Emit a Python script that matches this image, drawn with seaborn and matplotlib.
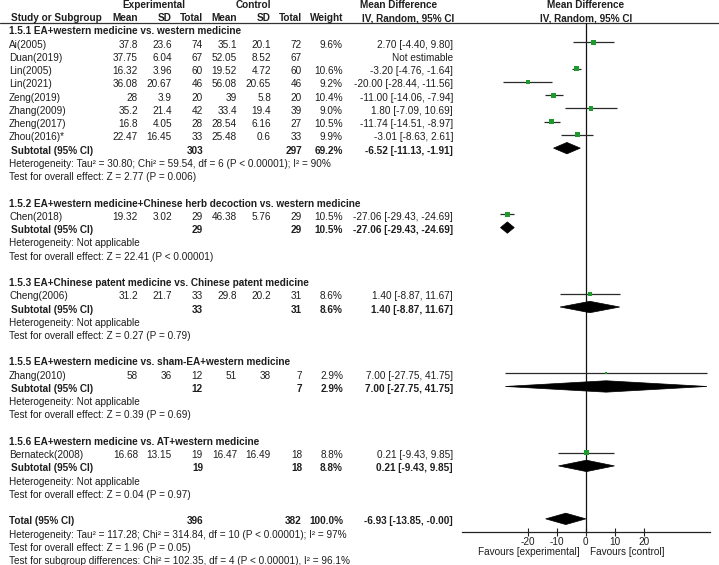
import numpy as np
import pandas as pd
import matplotlib
matplotlib.use("Agg")
import matplotlib.pyplot as plt
import seaborn as sns
from matplotlib.patches import Polygon

# ---------------- data ----------------
studies = ["Ai(2005)", "Duan(2019)", "Lin(2005)", "Lin(2021)", "Zeng(2019)", "Zhang(2009)",
           "Zheng(2017)", "Zhou(2016)*", "Chen(2018)", "Cheng(2006)", "Zhang(2010)", "Bernateck(2008)"]
study_group = [0, 0, 0, 0, 0, 0, 0, 0, 1, 2, 3, 4]
exp_mean = [37.8, 37.75, 16.32, 36.08, 28, 35.2, 16.8, 22.47, 19.32, 31.2, 58, 16.68]
exp_sd = [23.6, 6.04, 3.96, 20.67, 3.9, 21.4, 4.05, 16.45, 3.02, 21.7, 36, 13.15]
exp_n = [74, 67, 60, 46, 20, 42, 28, 33, 29, 33, 12, 19]
ctl_mean = [35.1, 52.05, 19.52, 56.08, 39, 33.4, 28.54, 25.48, 46.38, 29.8, 51, 16.47]
ctl_sd = [20.1, 8.52, 4.72, 20.65, 5.8, 19.4, 6.16, 0.6, 5.76, 20.2, 38, 16.49]
ctl_n = [72, 67, 60, 46, 20, 39, 27, 33, 29, 31, 7, 18]
weight = [9.6, np.nan, 10.6, 9.2, 10.4, 9.0, 10.5, 9.9, 10.5, 8.6, 2.9, 8.8]
md = [2.70, np.nan, -3.20, -20.00, -11.00, 1.80, -11.74, -3.01, -27.06, 1.40, 7.00, 0.21]
md_lo = [-4.40, np.nan, -4.76, -28.44, -14.06, -7.09, -14.51, -8.63, -29.43, -8.87, -27.75, -9.43]
md_hi = [9.80, np.nan, -1.64, -11.56, -7.94, 10.69, -8.97, 2.61, -24.69, 11.67, 41.75, 9.85]

group_titles = ["1.5.1 EA+western medicine vs. western medicine",
                "1.5.2 EA+western medicine+Chinese herb decoction vs. western medicine",
                "1.5.3 EA+Chinese patent medicine vs. Chinese patent medicine",
                "1.5.5 EA+western medicine vs. sham-EA+western medicine",
                "1.5.6 EA+western medicine vs. AT+western medicine"]
sub_exp_n = [303, 29, 33, 12, 19]
sub_ctl_n = [297, 29, 31, 7, 18]
sub_weight = [69.2, 10.5, 8.6, 2.9, 8.8]
sub_md = [-6.52, -27.06, 1.40, 7.00, 0.21]
sub_lo = [-11.13, -29.43, -8.87, -27.75, -9.43]
sub_hi = [-1.91, -24.69, 11.67, 41.75, 9.85]
sub_het = ["Heterogeneity: Tau\u00b2 = 30.80; Chi\u00b2 = 59.54, df = 6 (P < 0.00001); I\u00b2 = 90%",
           "Heterogeneity: Not applicable", "Heterogeneity: Not applicable",
           "Heterogeneity: Not applicable", "Heterogeneity: Not applicable"]
sub_test = ["Test for overall effect: Z = 2.77 (P = 0.006)",
            "Test for overall effect: Z = 22.41 (P < 0.00001)",
            "Test for overall effect: Z = 0.27 (P = 0.79)",
            "Test for overall effect: Z = 0.39 (P = 0.69)",
            "Test for overall effect: Z = 0.04 (P = 0.97)"]
total_exp_n, total_ctl_n, total_weight = 396, 382, 100.0
total_md, total_lo, total_hi = -6.93, -13.85, -0.0
total_het = "Heterogeneity: Tau\u00b2 = 117.28; Chi\u00b2 = 314.84, df = 10 (P < 0.00001); I\u00b2 = 97%"
total_test = "Test for overall effect: Z = 1.96 (P = 0.05)"
subgroup_test = "Test for subgroup differences: Chi\u00b2 = 102.35, df = 4 (P < 0.00001), I\u00b2 = 96.1%"
tick_values = [-20, -10, 0, 10, 20]
favours_left = "Favours [experimental]"
favours_right = "Favours [control]"

# ---------------- layout ----------------
W, H = 719, 565
FS = 7.2
TXT = "#1e1e1e"
GREEN = "#1f9a2e"
ROW0, ROWH = 5.0, 13.24      # text row pixel position
MOFF = 2.5                   # marker row pixel position offset

sns.set_theme(style="white")
plt.rcParams["font.family"] = ["Liberation Sans", "DejaVu Sans"]

fig = plt.figure(figsize=(W / 100, H / 100), dpi=100)
axt = fig.add_axes([0, 0, 1, 1])
axt.set_xlim(0, W)
axt.set_ylim(H, 0)
axt.axis("off")


def ty(r):
    return ROW0 + ROWH * r


def put(x, r, s, ha="left", bold=False):
    axt.text(x, ty(r), s, ha=ha, va="center", fontsize=FS, color=TXT,
             fontweight="bold" if bold else "normal")


def fmt(v):
    return f"{v:g}"


def ci(m, lo, hi):
    return f"{m:.2f} [{lo:.2f}, {hi:.2f}]"


# column x positions (right edges)
X_NAME, X_SUB = 9, 11
X_EM, X_ESD, X_EN, X_CM, X_CSD, X_CN, X_W, X_MD = 138, 172, 203, 237, 271, 302, 343, 453

# headers
put(154, 0, "Experimental", ha="center", bold=True)
put(253, 0, "Control", ha="center", bold=True)
put(399, 0, "Mean Difference", ha="center", bold=True)
put(586, 0, "Mean Difference", ha="center", bold=True)
put(X_SUB, 1, "Study or Subgroup", bold=True)
for x, s in zip([X_EM, X_ESD, X_EN, X_CM, X_CSD, X_CN, X_W],
                ["Mean", "SD", "Total", "Mean", "SD", "Total", "Weight"]):
    put(x, 1, s, ha="right", bold=True)
put(408, 1, "IV, Random, 95% CI", ha="center", bold=True)
put(586, 1, "IV, Random, 95% CI", ha="center", bold=True)
axt.plot([0, W], [22.7, 22.7], color="#333333", lw=0.9)

# rows
study_rows = [0] * len(studies)
sub_rows = []
r = 2
for g, title in enumerate(group_titles):
    put(X_NAME, r, title, bold=True)
    r += 1
    for i, gi in enumerate(study_group):
        if gi != g:
            continue
        study_rows[i] = r
        put(X_NAME, r, studies[i])
        put(X_EM, r, fmt(exp_mean[i]), ha="right")
        put(X_ESD, r, fmt(exp_sd[i]), ha="right")
        put(X_EN, r, str(exp_n[i]), ha="right")
        put(X_CM, r, fmt(ctl_mean[i]), ha="right")
        put(X_CSD, r, fmt(ctl_sd[i]), ha="right")
        put(X_CN, r, str(ctl_n[i]), ha="right")
        if np.isnan(md[i]):
            put(X_MD, r, "Not estimable", ha="right")
        else:
            put(X_W, r, f"{weight[i]:.1f}%", ha="right")
            put(X_MD, r, ci(md[i], md_lo[i], md_hi[i]), ha="right")
        r += 1
    sub_rows.append(r)
    put(X_SUB, r, "Subtotal (95% CI)", bold=True)
    put(X_EN, r, str(sub_exp_n[g]), ha="right", bold=True)
    put(X_CN, r, str(sub_ctl_n[g]), ha="right", bold=True)
    put(X_W, r, f"{sub_weight[g]:.1f}%", ha="right", bold=True)
    put(X_MD, r, ci(sub_md[g], sub_lo[g], sub_hi[g]), ha="right", bold=True)
    put(X_NAME, r + 1, sub_het[g])
    put(X_NAME, r + 2, sub_test[g])
    r += 4

total_row = r
put(X_NAME, total_row, "Total (95% CI)", bold=True)
put(X_EN, total_row, str(total_exp_n), ha="right", bold=True)
put(X_CN, total_row, str(total_ctl_n), ha="right", bold=True)
put(X_W, total_row, f"{total_weight:.1f}%", ha="right", bold=True)
put(X_MD, total_row, ci(total_md, total_lo, total_hi), ha="right", bold=True)
put(X_NAME, total_row + 1, total_het)
put(X_NAME, total_row + 2, total_test)
put(X_NAME, total_row + 3, subgroup_test)

# ---------------- forest axes ----------------
left_px, right_px, top_px, bot_px = 461.7, 710.0, 22.7, 531.7
axf = fig.add_axes([left_px / W, (H - bot_px) / H, (right_px - left_px) / W, (bot_px - top_px) / H])
axf.set_facecolor("none")
axf.set_xlim(-42.8, 42.8)
axf.set_ylim((bot_px - MOFF) / ROWH, (top_px - MOFF) / ROWH)

df = pd.DataFrame({"study": studies, "row": study_rows, "md": md, "lo": md_lo,
                   "hi": md_hi, "weight": weight}).dropna()

axf.axvline(0, color="#111111", lw=0.9, zorder=1)
axf.hlines(df["row"], df["lo"], df["hi"], color="#2a2a2a", lw=0.9, zorder=2)
sns.scatterplot(data=df, x="md", y="row", size="weight", sizes=(2, 13),
                size_norm=(2.9, 10.6), marker="s", color=GREEN, linewidth=0,
                legend=False, ax=axf, zorder=3)

half = 0.43
for m, lo, hi, rr in zip(sub_md + [total_md], sub_lo + [total_lo], sub_hi + [total_hi],
                         sub_rows + [total_row]):
    axf.add_patch(Polygon([[lo, rr], [m, rr - half], [hi, rr], [m, rr + half]],
                          closed=True, facecolor="black", edgecolor="black", lw=0.5, zorder=4))

for s in ["top", "left", "right"]:
    axf.spines[s].set_visible(False)
axf.spines["bottom"].set_color("#222222")
axf.spines["bottom"].set_linewidth(0.9)
axf.set_xticks(tick_values)
axf.set_xticklabels([str(t) for t in tick_values])
axf.set_yticks([])
axf.tick_params(axis="x", direction="inout", length=6, width=0.8, color="#222222",
                labelsize=FS, labelcolor=TXT, pad=1, bottom=True)
axf.set_xlabel("")
axf.set_ylabel("")

put(580, 41.35, favours_left, ha="right")
put(590, 41.35, favours_right, ha="left")

fig.savefig("out.png", dpi=100)
